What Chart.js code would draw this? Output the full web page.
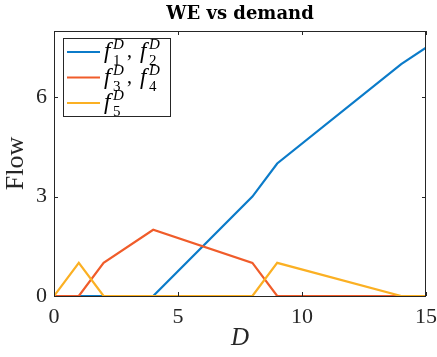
<!DOCTYPE html>
<html>
<head>
<meta charset="utf-8">
<script src="https://cdn.jsdelivr.net/npm/chart.js@4.4.0/dist/chart.umd.min.js"></script>
<style>
  html, body { margin: 0; padding: 0; background: #fff; }
  #wrap { width: 437px; height: 357px; }
</style>
</head>
<body>
<div id="wrap"><canvas id="myChart" width="437" height="357"></canvas></div>
<script>
// demand values and flows
const demand = [0, 1, 2, 4, 8, 9, 14, 15];
const flow12 = [0, 0, 0, 0, 3, 4, 7, 7.5];
const flow34 = [0, 0, 1, 2, 1, 0, 0, 0];
const flow5  = [0, 1, 0, 0, 0, 1, 0, 0];
const xTicks = [0, 5, 10, 15];
const yTicks = [0, 3, 6];
const legendLabels = [['1', '2'], ['3', '4'], ['5']];

const axisColor = '#262626';
const serif = '"Liberation Serif", "DejaVu Serif", serif';

function pts(ys) {
  return demand.map(function(d, i) { return { x: d, y: ys[i] }; });
}

const decorPlugin = {
  id: 'decor',
  afterDraw: function(chart) {
    const c = chart.ctx;
    const a = chart.chartArea;
    const xs = chart.scales.x, ys = chart.scales.y;
    c.save();
    // box
    c.strokeStyle = axisColor;
    c.lineWidth = 1;
    c.strokeRect(a.left + 0.5, a.top + 0.5, a.right - a.left - 1, a.bottom - a.top);
    // inward ticks on all sides
    c.beginPath();
    xTicks.forEach(function(t) {
      const px = Math.round(xs.getPixelForValue(t)) + 0.5;
      c.moveTo(px, a.bottom); c.lineTo(px, a.bottom - 4);
      c.moveTo(px, a.top); c.lineTo(px, a.top + 4);
    });
    yTicks.forEach(function(t) {
      const py = Math.round(ys.getPixelForValue(t)) + 0.5;
      c.moveTo(a.left, py); c.lineTo(a.left + 4, py);
      c.moveTo(a.right, py); c.lineTo(a.right - 4, py);
    });
    c.stroke();

    // tick labels
    c.fillStyle = axisColor;
    c.font = '22px ' + serif;
    c.textAlign = 'center';
    c.textBaseline = 'middle';
    xTicks.forEach(function(t) {
      c.fillText(String(t), xs.getPixelForValue(t), a.bottom + 21);
    });
    c.textAlign = 'right';
    yTicks.forEach(function(t) {
      c.fillText(String(t), a.left - 7, ys.getPixelForValue(t));
    });

    // title
    c.fillStyle = '#000';
    c.textAlign = 'center';
    c.font = 'bold 18px "DejaVu Serif", serif';
    c.fillText('WE vs demand', (a.left + a.right) / 2, 14);

    // axis labels
    c.fillStyle = axisColor;
    c.font = 'italic 25px ' + serif;
    c.fillText('D', (a.left + a.right) / 2, 338);
    c.save();
    c.translate(16, (a.top + a.bottom) / 2);
    c.rotate(-Math.PI / 2);
    c.font = '26px ' + serif;
    c.fillText('Flow', 0, 0);
    c.restore();

    // legend
    const lx = 63, ly = 38, lw = 107, lh = 78;
    c.fillStyle = '#fff';
    c.fillRect(lx, ly, lw, lh);
    c.strokeStyle = axisColor;
    c.lineWidth = 1;
    c.strokeRect(lx + 0.5, ly + 0.5, lw, lh);
    chart.data.datasets.forEach(function(ds, i) {
      const rowY = 52 + i * 25.5;
      c.strokeStyle = ds.borderColor;
      c.lineWidth = 2;
      c.beginPath();
      c.moveTo(67, rowY); c.lineTo(100, rowY);
      c.stroke();
      let x = 104;
      c.fillStyle = '#000';
      c.textAlign = 'left';
      c.textBaseline = 'alphabetic';
      legendLabels[i].forEach(function(sub, k) {
        if (k > 0) {
          c.font = '20px ' + serif;
          c.fillText(',', x + 1, rowY + 5);
          x += 14;
        }
        c.font = 'italic 23px ' + serif;
        c.fillText('f', x, rowY + 6);
        c.font = '15px ' + serif;
        c.fillText(sub, x + 9, rowY + 13);
        c.font = 'italic 15px ' + serif;
        c.fillText('D', x + 9, rowY - 3);
        x += 22;
      });
    });
    c.restore();
  }
};

new Chart(document.getElementById('myChart'), {
  type: 'line',
  data: {
    datasets: [
      { label: 'f1D, f2D', data: pts(flow12), borderColor: '#0b7bc9', order: 3 },
      { label: 'f3D, f4D', data: pts(flow34), borderColor: '#f05c2a', order: 2 },
      { label: 'f5D', data: pts(flow5), borderColor: '#fbb023', order: 1 }
    ]
  },
  options: {
    responsive: false,
    animation: false,
    layout: { padding: { top: 31, right: 11, left: 0, bottom: 0 } },
    elements: {
      line: { borderWidth: 2.2, tension: 0, fill: false },
      point: { radius: 0 }
    },
    plugins: { legend: { display: false }, tooltip: { enabled: false }, title: { display: false } },
    scales: {
      x: {
        type: 'linear',
        min: 0, max: 15,
        afterBuildTicks: function(s) { s.ticks = xTicks.map(function(v) { return { value: v }; }); },
        afterFit: function(s) { s.height = 61; },
        grid: { display: false, drawTicks: false },
        border: { display: false },
        ticks: { display: false }
      },
      y: {
        min: 0, max: 8,
        afterBuildTicks: function(s) { s.ticks = yTicks.map(function(v) { return { value: v }; }); },
        afterFit: function(s) { s.width = 54; },
        grid: { display: false, drawTicks: false },
        border: { display: false },
        ticks: { display: false }
      }
    }
  },
  plugins: [decorPlugin]
});
</script>
</body>
</html>
